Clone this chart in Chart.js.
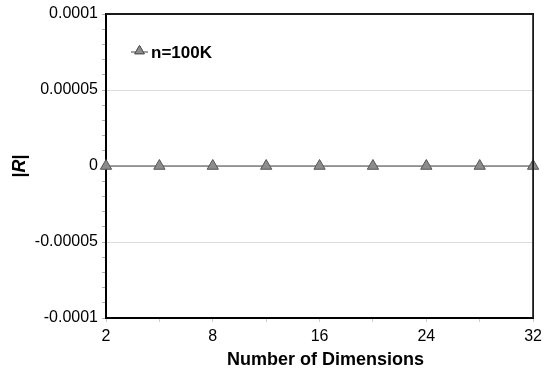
<!DOCTYPE html>
<html>
<head>
<meta charset="utf-8">
<script src="https://cdn.jsdelivr.net/npm/chart.js@4.4.1/dist/chart.umd.min.js"></script>
<style>
  html, body { margin: 0; padding: 0; background: #fff; }
  #rChart { display: block; }
</style>
</head>
<body>
<canvas id="rChart" width="547" height="373"></canvas>
<script>
// number of dimensions on the x axis
const dimensions = ['2', '4', '8', '12', '16', '20', '24', '28', '32'];
// |R| for n=100K
const r100k = [0, 0, 0, 0, 0, 0, 0, 0, 0];
const seriesName = 'n=100K';
// y tick labels, bottom to top
const yTickLabels = ['-0.0001', '-0.00005', '0', '0.00005', '0.0001'];
const xTitle = 'Number of Dimensions';

const FONT = '"Liberation Sans", Arial, sans-serif';

// frame (top/right), axis titles (italic R) and the in-plot legend
const extras = {
  id: 'extras',
  afterDraw(chart) {
    const ctx = chart.ctx;
    const a = chart.chartArea;
    ctx.save();
    ctx.strokeStyle = '#1a1a1a';
    ctx.lineWidth = 1.8;
    ctx.beginPath();
    ctx.moveTo(a.left, a.top);
    ctx.lineTo(a.right, a.top);
    ctx.lineTo(a.right, a.bottom);
    ctx.stroke();

    // x axis title
    ctx.fillStyle = '#000';
    ctx.font = 'bold 18px ' + FONT;
    ctx.textAlign = 'center';
    ctx.textBaseline = 'middle';
    ctx.fillText(xTitle, (a.left + a.right) / 2 + 6, 360);

    // y axis title "|R|"
    ctx.textAlign = 'left';
    ctx.translate(20, (a.top + a.bottom) / 2);
    ctx.rotate(-Math.PI / 2);
    const bar = '|';
    ctx.font = 'bold 18px ' + FONT;
    const wBar = ctx.measureText(bar).width;
    ctx.font = 'italic bold 18px ' + FONT;
    const wR = ctx.measureText('R').width;
    let x = -(wBar * 2 + wR) / 2;
    ctx.font = 'bold 18px ' + FONT;
    ctx.fillText(bar, x, 0);
    x += wBar;
    ctx.font = 'italic bold 18px ' + FONT;
    ctx.fillText('R', x, 0);
    x += wR;
    ctx.font = 'bold 18px ' + FONT;
    ctx.fillText(bar, x, 0);
    ctx.restore();

    // legend
    const ds = chart.data.datasets[0];
    const ly = 52;
    ctx.save();
    ctx.strokeStyle = ds.borderColor;
    ctx.lineWidth = 1;
    ctx.beginPath();
    ctx.moveTo(131, ly);
    ctx.lineTo(148, ly);
    ctx.stroke();
    Chart.helpers.drawPoint(ctx, {
      pointStyle: 'triangle', radius: 5.5, rotation: 0, borderWidth: 1
    }, 139.5, ly - 1);
    ctx.fillStyle = ds.pointBackgroundColor;
    ctx.strokeStyle = ds.pointBorderColor;
    ctx.fill();
    ctx.stroke();
    ctx.fillStyle = '#000';
    ctx.font = 'bold 17px ' + FONT;
    ctx.textBaseline = 'middle';
    ctx.fillText(ds.label, 151, ly + 1);
    ctx.restore();
  }
};

new Chart(document.getElementById('rChart'), {
  type: 'line',
  data: {
    labels: dimensions,
    datasets: [{
      label: seriesName,
      data: r100k,
      borderColor: '#444',
      borderWidth: 1,
      pointStyle: 'triangle',
      pointRadius: 6.5,
      pointBackgroundColor: '#8c8c8c',
      pointBorderColor: '#555',
      pointBorderWidth: 1,
      clip: false
    }]
  },
  options: {
    responsive: false,
    animation: false,
    layout: { padding: { top: 14, right: 13, bottom: 0, left: 0 } },
    plugins: { legend: { display: false }, tooltip: { enabled: false } },
    scales: {
      x: {
        type: 'category',
        offset: false,
        border: { color: '#000', width: 2 },
        grid: { drawOnChartArea: false, tickLength: 4, color: '#ccc' },
        ticks: {
          autoSkip: false,
          maxRotation: 0,
          padding: 5,
          color: '#000',
          font: { family: FONT, size: 16 },
          callback(value, index) {
            return index % 2 === 0 ? this.getLabelForValue(value) : '';
          }
        },
        afterFit(scale) { scale.height = 55; }
      },
      y: {
        min: -0.0001,
        max: 0.0001,
        border: { color: '#000', width: 2 },
        grid: {
          tickLength: 4,
          color: ctx => (ctx.index % 5 === 0 ? '#dcdcdc' : 'rgba(0,0,0,0)'),
          tickColor: '#b0b0b0'
        },
        ticks: {
          stepSize: 0.00001,
          autoSkip: false,
          padding: 4,
          color: '#000',
          font: { family: FONT, size: 16 },
          callback(value, index) {
            return index % 5 === 0 ? yTickLabels[index / 5] : '';
          }
        },
        afterFit(scale) { scale.width = 106; }
      }
    }
  },
  plugins: [extras]
});
</script>
</body>
</html>
